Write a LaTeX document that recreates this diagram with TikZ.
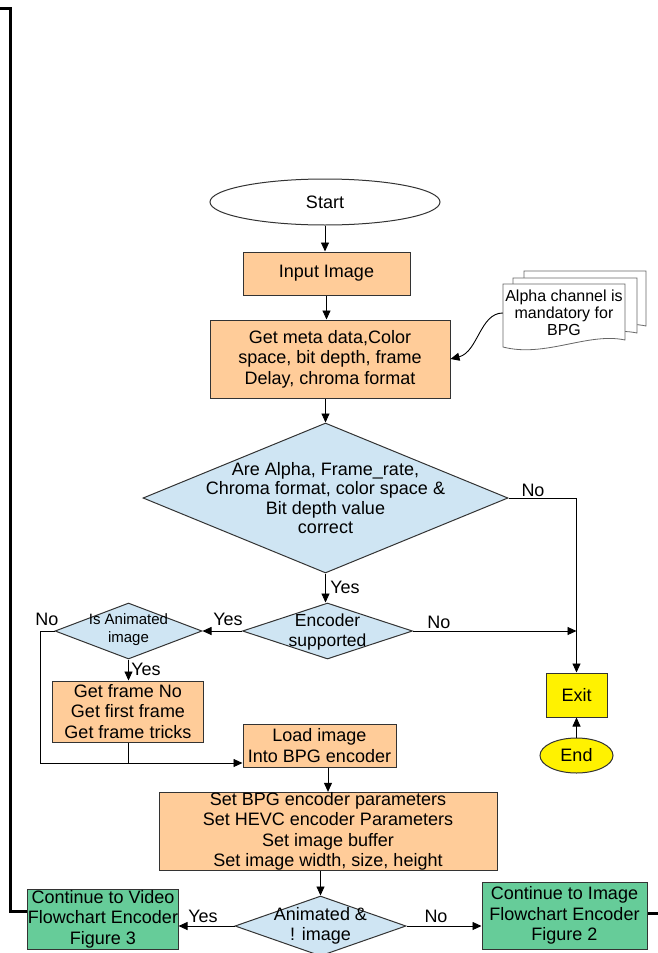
\documentclass[tikz,border=0pt]{standalone}
\usepackage{fontspec}
\setmainfont{Liberation Sans}
\usetikzlibrary{shapes.geometric,arrows.meta}
\definecolor{peach}{HTML}{FFCC99}
\definecolor{lblue}{HTML}{CFE5F3}
\definecolor{mgreen}{HTML}{66CC99}
\definecolor{edgec}{HTML}{333333}
\definecolor{docc}{HTML}{666666}
\begin{document}
\begin{tikzpicture}[x=1pt,y=-1pt,
  txt/.style={font=\fontsize{18}{20.5}\selectfont, align=center, inner sep=0pt, text=black},
  smalltxt/.style={font=\fontsize{15}{18}\selectfont, align=center, inner sep=0pt},
  box/.style={draw=edgec, line width=1pt, rectangle, inner sep=0pt, txt},
  proc/.style={box, fill=peach},
  greenbox/.style={box, fill=mgreen},
  dia/.style={draw=edgec, line width=1pt, diamond, fill=lblue, inner sep=0pt},
  arr/.style={draw=black, line width=0.9pt, -{Triangle[length=9pt,width=8pt]}},
  plain/.style={draw=black, line width=0.9pt},
  heavy/.style={draw=black, line width=3pt},
  lab/.style={txt, anchor=center},
  docst/.style={draw=docc, line width=0.8pt, fill=white}
]
\useasboundingbox (0,0) rectangle (658,953);

% Start
\node[draw=edgec, line width=1pt, ellipse, fill=white, minimum width=230pt, minimum height=46pt, txt] (start) at (325,202) {Start};
\node[proc, minimum width=167pt, minimum height=43pt] (input) at (326.5,273.5) {Input Image};
\node[proc, minimum width=240pt, minimum height=78pt] (meta) at (330,359) {Get meta data,Color\\space, bit depth, frame\\Delay, chroma format};

% document shape
\draw[docst] (524,271) -- (646,271) -- (646,326) .. controls (610,318) and (566,344) .. (524,334) -- cycle;
\draw[docst] (513,278) -- (637,278) -- (637,333) .. controls (600,325) and (556,351) .. (513,341) -- cycle;
\draw[docst] (503,284) -- (625,284) -- (625,340) .. controls (588,332) and (545,358) .. (503,347) -- cycle;
\node[font=\fontsize{16}{17}\selectfont, align=center, inner sep=0pt, minimum width=122pt, minimum height=50pt] (docf) at (564,313) {Alpha channel is\\mandatory for\\BPG};

% decisions
\node[dia, minimum width=365pt, minimum height=150pt] (d1) at (325.5,498) {};
\node[txt, font=\fontsize{18}{19.5}\selectfont] (d1t) at (d1) {Are Alpha, Frame\_rate,\\Chroma format, color space \&\\Bit depth value\\correct};
\node[dia, minimum width=170pt, minimum height=56pt] (d2) at (327.5,631) {};
\node[txt, font=\fontsize{17.5}{20}\selectfont] (d2t) at (327.5,632) {Encoder\\supported};
\node[dia, minimum width=147pt, minimum height=56pt] (d3) at (128.5,631) {};
\node[smalltxt] (d3t) at (128.5,630) {Is Animated\\image};

\node[proc, minimum width=151pt, minimum height=61pt] (frame) at (128,711.5) {Get frame No\\Get first frame\\Get frame tricks};
\node[proc, minimum width=153pt, minimum height=43pt] (load) at (319.5,745.5) {Load image\\Into BPG encoder};
\node[proc, minimum width=338pt, minimum height=77pt] (params) at (328,831.5) {Set BPG encoder parameters\\Set HEVC encoder Parameters\\Set image buffer\\Set image width, size, height};

\node[dia, minimum width=171pt, minimum height=60pt] (d4) at (320.5,926) {};
\node[txt] (d4t) at (320.5,926) {Animated \&\\! image};

\node[greenbox, minimum width=148pt, minimum height=60pt] (vid) at (103,919) {Continue to Video\\Flowchart Encoder\\Figure 3};
\node[greenbox, minimum width=165pt, minimum height=67pt] (img) at (564.5,915.5) {Continue to Image\\Flowchart Encoder\\Figure 2};

\node[box, fill=yellow, minimum width=61pt, minimum height=44pt] (exit) at (576.5,695) {Exit};
\node[draw=edgec, line width=1pt, ellipse, fill=yellow, minimum width=73pt, minimum height=35pt, txt] (end) at (576.5,755.5) {End};

% coordinates
\coordinate (j) at (40,763);
\coordinate (tl) at (0,8);
\coordinate (tlc) at (10,8);
\coordinate (blc) at (10,911);
\coordinate (tr) at (658,913);

% connectors
\draw[arr] (start.south) -- (start.south |- input.north);
\draw[arr] (input.south) -- (input.south |- meta.north);
\draw[arr] (d1.north |- meta.south) -- (d1.north);
\draw[arr] (docf.west) .. controls (480,313) and (478,352) .. (meta.east);
\draw[arr] (d1.east) -| (exit.north);
\draw[arr] (d1.south) -- (d1.south |- d2.north);
\draw[arr] (d2.east) -- (d2.east -| exit.north);
\draw[arr] (d2.west) -- (d3.east);
\draw[arr] (d3.south) -- (d3.south |- frame.north);
\draw[plain] (d3.west) -| (j);
\draw[arr] (j) -- (j -| load.west);
\draw[plain] (frame.south) -- (frame.south |- j);
\draw[arr] (load.south -| params.north) -- (params.north);
\draw[arr] (params.south -| d4.north) -- (d4.north);
\draw[arr] (d4.west) -- (d4.west -| vid.east);
\draw[arr] (d4.east) -- (d4.east -| img.west);
\draw[arr] (end.north) -- (exit.south);
\draw[heavy] (tl) -- (tlc) -- (blc) -- (blc -| vid.west);
\draw[heavy] (img.east |- tr) -- (tr);

% labels
\node[lab] (l1) at (533,490) {No};
\node[lab] (l2) at (345,587) {Yes};
\node[lab] (l3) at (439,622) {No};
\node[lab] (l4) at (228,619) {Yes};
\node[lab] (l5) at (47,619) {No};
\node[lab] (l6) at (146,669) {Yes};
\node[lab] (l7) at (203,916) {Yes};
\node[lab] (l8) at (436,916) {No};
\end{tikzpicture}
\end{document}
